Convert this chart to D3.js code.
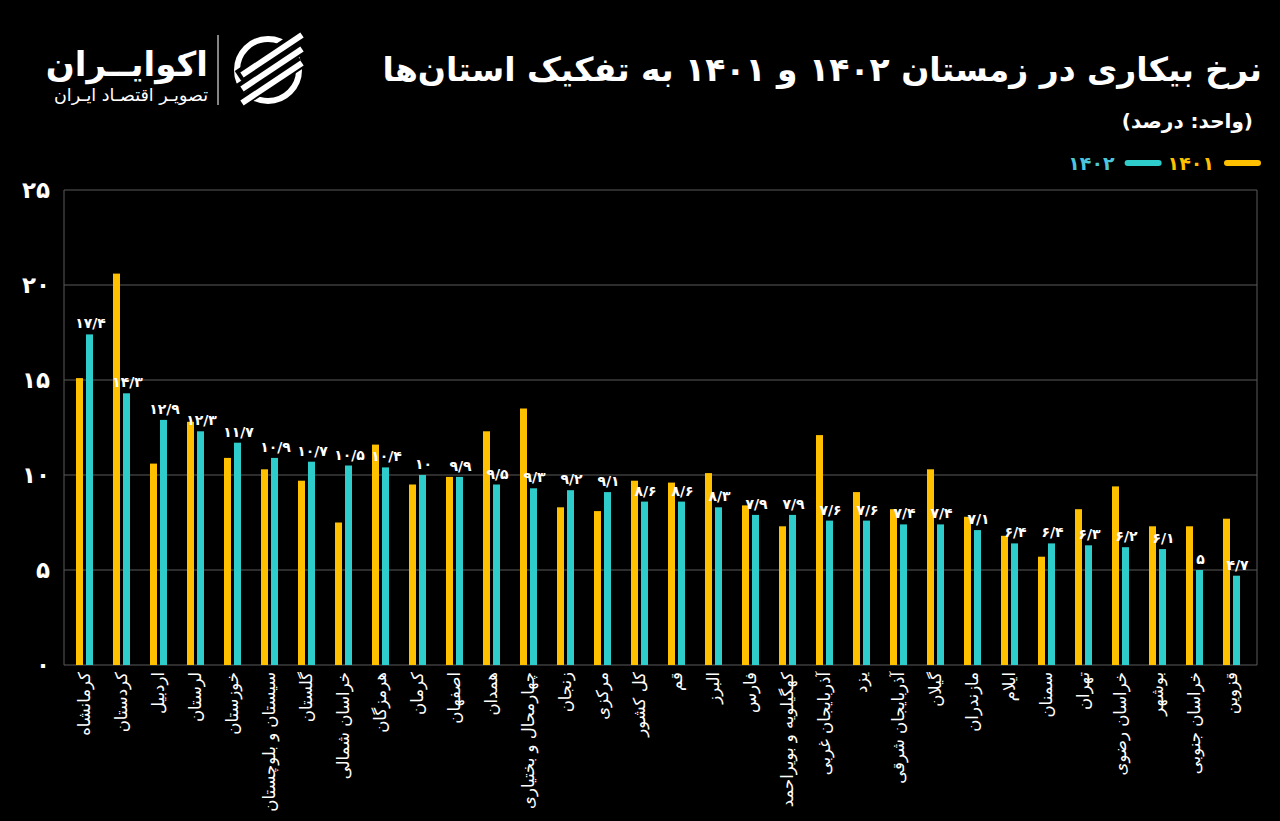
<!DOCTYPE html>
<html lang="fa">
<head>
  <meta charset="UTF-8">
  <title>نرخ بیکاری در زمستان ۱۴۰۲ و ۱۴۰۱</title>
  <style>
    body {
      margin: 0;
      background-color: #000;
    }
    svg text {
      font-family: "DejaVu Sans", sans-serif;
      fill: #fff;
    }
  </style>
</head>
<body>
  <div id="chart"></div>

  <script src="https://d3js.org/d3.v7.min.js"></script>
  <script>
    const provinces = ["کرمانشاه", "کردستان", "اردبیل", "لرستان", "خوزستان", "سیستان و بلوچستان", "گلستان", "خراسان شمالی",
      "هرمزگان", "کرمان", "اصفهان", "همدان", "چهارمحال و بختیاری", "زنجان", "مرکزی", "کل کشور", "قم", "البرز", "فارس",
      "کهگیلویه و بویراحمد", "آذربایجان غربی", "یزد", "آذربایجان شرقی", "گیلان", "مازندران", "ایلام", "سمنان", "تهران",
      "خراسان رضوی", "بوشهر", "خراسان جنوبی", "قزوین"];
    const rate1401 = [15.1, 20.6, 10.6, 12.8, 10.9, 10.3, 9.7, 7.5, 11.6, 9.5, 9.9, 12.3, 13.5, 8.3, 8.1, 9.7,
      9.6, 10.1, 8.4, 7.3, 12.1, 9.1, 8.2, 10.3, 7.8, 6.8, 5.7, 8.2, 9.4, 7.3, 7.3, 7.7];
    const rate1402 = [17.4, 14.3, 12.9, 12.3, 11.7, 10.9, 10.7, 10.5, 10.4, 10, 9.9, 9.5, 9.3, 9.2, 9.1, 8.6,
      8.6, 8.3, 7.9, 7.9, 7.6, 7.6, 7.4, 7.4, 7.1, 6.4, 6.4, 6.3, 6.2, 6.1, 5, 4.7];
    const seriesNames = ["۱۴۰۱", "۱۴۰۲"];
    const yTicks = [0, 5, 10, 15, 20, 25];

    const colors = { "۱۴۰۱": "#ffc000", "۱۴۰۲": "#2fcccc" };
    const legendText = { "۱۴۰۱": "#ffc000", "۱۴۰۲": "#4cc6dc" };

    const width = 1280;
    const height = 821;

    const svg = d3.select("#chart")
      .append("svg")
      .attr("width", width)
      .attr("height", height)
      .style("display", "block")
      .style("background", "#000");

    // persian digits, "/" as decimal mark
    const fa = v => String(v).replace(/\d/g, d => "۰۱۲۳۴۵۶۷۸۹"[d]).replace(".", "/");

    const x = d3.scaleBand().domain(provinces).range([66, 1250]);
    const xSub = d3.scaleBand().domain(seriesNames).range([-8.5, 8.5]).paddingInner(0.3);
    const y = d3.scaleLinear().domain([0, 25]).range([665, 190]);

    // grid + frame
    svg.append("g")
      .selectAll("line")
      .data(yTicks)
      .enter()
      .append("line")
      .attr("x1", 64)
      .attr("x2", 1257)
      .attr("y1", d => y(d))
      .attr("y2", d => y(d))
      .attr("stroke", "#5a5a5a")
      .attr("stroke-width", 1);

    svg.append("g")
      .selectAll("line")
      .data([64, 1257])
      .enter()
      .append("line")
      .attr("x1", d => d)
      .attr("x2", d => d)
      .attr("y1", y(25))
      .attr("y2", y(0))
      .attr("stroke", "#5a5a5a")
      .attr("stroke-width", 1);

    // y tick labels
    svg.append("g")
      .selectAll("text")
      .data(yTicks)
      .enter()
      .append("text")
      .attr("x", 50)
      .attr("y", d => y(d))
      .attr("dy", "0.35em")
      .attr("text-anchor", "end")
      .style("font-size", "23px")
      .style("font-weight", "bold")
      .text(d => fa(d));

    // bars
    const rows = provinces.map((p, i) => ({ name: p, values: [rate1401[i], rate1402[i]] }));

    const groups = svg.append("g")
      .selectAll("g")
      .data(rows)
      .enter()
      .append("g")
      .attr("transform", d => `translate(${x(d.name) + x.bandwidth() / 2},0)`);

    groups.selectAll("rect")
      .data(d => d.values.map((v, j) => ({ key: seriesNames[j], value: v })))
      .enter()
      .append("rect")
      .attr("x", d => xSub(d.key))
      .attr("width", xSub.bandwidth())
      .attr("y", d => y(d.value))
      .attr("height", d => y(0) - y(d.value))
      .attr("fill", d => colors[d.key]);

    // value labels for 1402
    groups.append("text")
      .attr("x", xSub("۱۴۰۲") + xSub.bandwidth() / 2 + 1)
      .attr("y", d => y(d.values[1]) - 6)
      .attr("text-anchor", "middle")
      .style("font-size", "14px")
      .style("font-weight", "bold")
      .text(d => fa(d.values[1]));

    // category labels, rotated
    groups.append("text")
      .attr("transform", "translate(0,672) rotate(-90)")
      .attr("direction", "rtl")
      .attr("text-anchor", "start")
      .attr("dy", "0.35em")
      .style("font-size", "16.5px")
      .text(d => d.name);

    // title block
    svg.append("text")
      .attr("x", 1262)
      .attr("y", 81)
      .attr("direction", "rtl")
      .attr("text-anchor", "start")
      .style("font-size", "33px")
      .style("font-weight", "bold")
      .text("نرخ بیکاری در زمستان ۱۴۰۲ و ۱۴۰۱ به تفکیک استان‌ها");

    svg.append("text")
      .attr("x", 1253)
      .attr("y", 128)
      .attr("direction", "rtl")
      .attr("text-anchor", "start")
      .style("font-size", "20px")
      .style("font-weight", "bold")
      .text("(واحد: درصد)");

    // legend
    let lx = 1258;
    seriesNames.forEach(s => {
      svg.append("line")
        .attr("x1", lx - 31)
        .attr("x2", lx)
        .attr("y1", 163)
        .attr("y2", 163)
        .attr("stroke", colors[s])
        .attr("stroke-width", 6)
        .attr("stroke-linecap", "round");
      const t = svg.append("text")
        .attr("x", lx - 44)
        .attr("y", 163)
        .attr("dy", "0.36em")
        .attr("text-anchor", "end")
        .style("font-size", "19px")
        .style("font-weight", "bold")
        .style("fill", legendText[s])
        .text(s);
      lx = lx - 44 - t.node().getComputedTextLength() - 9;
    });

    // logo
    const logo = svg.append("g");
    logo.append("text")
      .attr("x", 208)
      .attr("y", 76)
      .attr("direction", "rtl")
      .attr("text-anchor", "start")
      .style("font-size", "34px")
      .style("font-weight", "bold")
      .text("اکوایــران");
    logo.append("text")
      .attr("x", 208)
      .attr("y", 101)
      .attr("direction", "rtl")
      .attr("text-anchor", "start")
      .style("font-size", "17.5px")
      .text("تصویـر اقتصـاد ایـران");
    logo.append("line")
      .attr("x1", 218).attr("x2", 218)
      .attr("y1", 35).attr("y2", 105)
      .attr("stroke", "#ddd")
      .attr("stroke-width", 1.2);

    const icon = logo.append("g").attr("transform", "translate(268,70)");
    icon.append("circle")
      .attr("r", 31)
      .attr("fill", "none")
      .attr("stroke", "#fff")
      .attr("stroke-width", 6);
    [-14, 0, 14].forEach(off => {
      icon.append("line")
        .attr("x1", -30).attr("y1", 20 + off)
        .attr("x2", 34).attr("y2", -22 + off)
        .attr("stroke", "#000")
        .attr("stroke-width", 12);
      icon.append("line")
        .attr("x1", -26).attr("y1", 19 + off)
        .attr("x2", 34).attr("y2", -21 + off)
        .attr("stroke", "#fff")
        .attr("stroke-width", 6);
    });
  </script>
</body>
</html>
